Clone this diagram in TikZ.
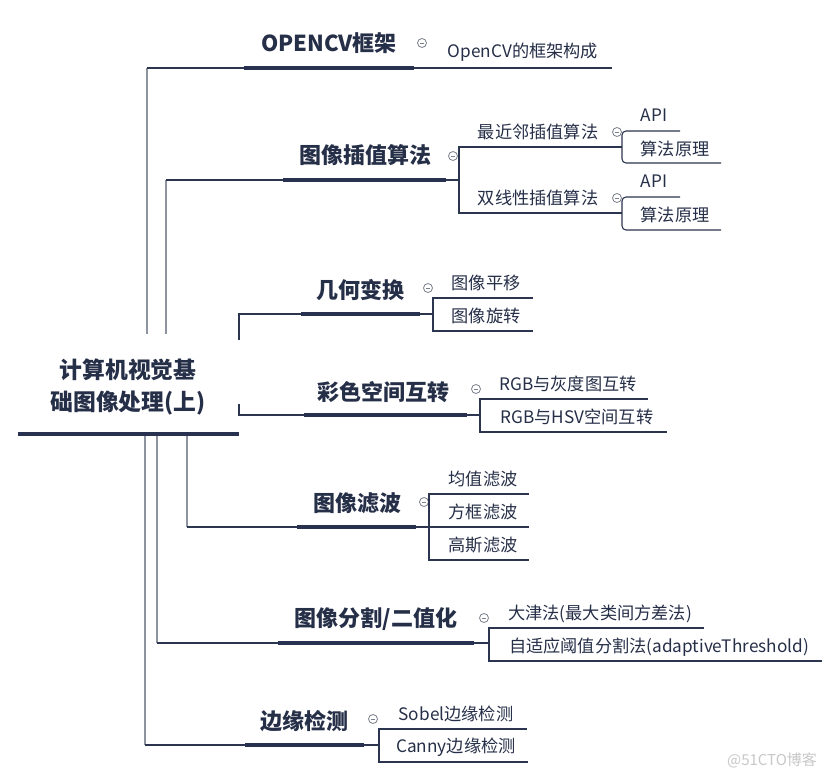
\documentclass[tikz,border=0pt]{standalone}
\usepackage{fontspec}
\setmainfont{Noto Sans CJK SC}
\definecolor{ink}{HTML}{262F48}
\definecolor{barc}{HTML}{283250}
\definecolor{linkc}{HTML}{2C3550}
\definecolor{trunkc}{HTML}{8E93A0}
\definecolor{foldc}{HTML}{7A7F8C}
\definecolor{markc}{HTML}{C8C8C8}
\begin{document}
\begin{tikzpicture}[x=1pt,y=-1pt,
 title/.style={font=\bfseries\fontsize{22}{32}\selectfont,text=ink,inner sep=0,align=center},
 leaf/.style={font=\fontsize{17.2}{20}\selectfont,text=ink,inner sep=0},
 bar/.style={line width=4.6pt,draw=barc},
 link/.style={line width=1.1pt,draw=linkc},
 trunk/.style={line width=1.4pt,draw=trunkc},
 fold/.style={circle,draw=foldc,line width=0.8pt,minimum size=9pt,inner sep=0,font=\fontsize{1}{1}\selectfont}]
\fill[white] (0,0) rectangle (832,778);
\useasboundingbox (0,0) rectangle (832,778);
\newcommand{\mn}{\textcolor{foldc}{\rule{4.6pt}{0.8pt}}}

% root
\node[title,font=\bfseries\fontsize{22.8}{32}\selectfont] (root) at (128,387) {计算机视觉基\\础图像处理(上)};
\coordinate (rL) at (18,434); \coordinate (rR) at (239,434);
\draw[bar] (rL) -- (rR);
\coordinate (tA) at (147,334); \coordinate (tB) at (166,334);
\coordinate (tC) at (145,436); \coordinate (tD) at (157,436); \coordinate (tE) at (187,436);
\coordinate (tF) at (239,340); \coordinate (tG) at (239,404);

% OPENCV
\node[title] (cv) at (329,43) {OPENCV框架};
\node[fold] (cvf) at (422,43) {\mn};
\node[leaf] (cv1) at (523,52) {OpenCV的框架构成};
\coordinate (cvL) at (244,68); \coordinate (cvR) at (414,68); \coordinate (cvE) at (612,68);
\draw[trunk] (tA) -- (tA |- cvL);
\draw[link] (tA |- cvL) -- (cvL);
\draw[bar] (cvL) -- (cvR);
\draw[link] (cvR) -- (cvE);

% interpolation
\node[title] (ip) at (365,155) {图像插值算法};
\node[fold] (ipf) at (453,156) {\mn};
\coordinate (ipL) at (283,180); \coordinate (ipR) at (446,180); \coordinate (ipV) at (459,180);
\draw[trunk] (tB) -- (tB |- ipL);
\draw[link] (tB |- ipL) -- (ipL);
\draw[bar] (ipL) -- (ipR);
\draw[link] (ipR) -- (ipV);
\node[leaf] (ip1) at (538,132) {最近邻插值算法};
\node[fold] (ip1f) at (617,132) {\mn};
\node[leaf] (ip2) at (538,198) {双线性插值算法};
\node[fold] (ip2f) at (617,198) {\mn};
\coordinate (ip1L) at (459,147); \coordinate (ip1R) at (622,147);
\coordinate (ip2L) at (459,213); \coordinate (ip2R) at (622,213);
\draw[link] (ip1R) -- (ip1L) -- (ip2L) -- (ip2R);
\node[leaf] (ip1a) at (654,115) {API};
\node[leaf] (ip1b) at (675,149) {算法原理};
\coordinate (ip1aR) at (680,131); \coordinate (ip1bR) at (721,163);
\draw[link,rounded corners=4pt] (ip1aR) -- (622,131) -- (622,163) -- (ip1bR);
\node[leaf] (ip2a) at (654,181) {API};
\node[leaf] (ip2b) at (675,215) {算法原理};
\coordinate (ip2aR) at (680,197); \coordinate (ip2bR) at (721,230);
\draw[link,rounded corners=4pt] (ip2aR) -- (622,197) -- (622,230) -- (ip2bR);

% geometry
\node[title] (geo) at (360,290) {几何变换};
\node[fold] (geof) at (428,288) {\mn};
\coordinate (geoL) at (301,314); \coordinate (geoR) at (420,314); \coordinate (geoV) at (433,314);
\draw[link] (tF) -- (tF |- geoL) -- (geoL);
\draw[bar] (geoL) -- (geoR);
\draw[link] (geoR) -- (geoV);
\node[leaf] (geo1) at (486,283) {图像平移};
\node[leaf] (geo2) at (486,316) {图像旋转};
\coordinate (geo1R) at (533,298); \coordinate (geo2R) at (533,331);
\draw[link] (geo1R) -- (433,298) -- (433,331) -- (geo2R);

% colour
\node[title] (col) at (383,392) {彩色空间互转};
\node[fold] (colf) at (476,389) {\mn};
\coordinate (colL) at (304,415); \coordinate (colR) at (467,415); \coordinate (colV) at (480,415);
\draw[link] (tG) -- (tG |- colL) -- (colL);
\draw[bar] (colL) -- (colR);
\draw[link] (colR) -- (colV);
\node[leaf] (col1) at (568,384) {RGB与灰度图互转};
\node[leaf] (col2) at (577,417) {RGB与HSV空间互转};
\coordinate (col1R) at (648,399); \coordinate (col2R) at (667,432);
\draw[link] (col1R) -- (480,399) -- (480,432) -- (col2R);

% filter
\node[title] (flt) at (357,503) {图像滤波};
\node[fold] (fltf) at (424,502) {\mn};
\coordinate (fltL) at (297,527); \coordinate (fltR) at (416,527); \coordinate (fltV) at (429,527);
\draw[trunk] (tE) -- (tE |- fltL);
\draw[link] (tE |- fltL) -- (fltL);
\draw[bar] (fltL) -- (fltR);
\draw[link] (fltR) -- (fltV);
\node[leaf] (flt1) at (483,479) {均值滤波};
\node[leaf] (flt2) at (483,512) {方框滤波};
\node[leaf] (flt3) at (483,545) {高斯滤波};
\coordinate (flt1R) at (529,494); \coordinate (flt2R) at (529,527); \coordinate (flt3R) at (529,560);
\draw[link] (flt1R) -- (429,494) -- (429,560) -- (flt3R);
\draw[link] (fltV) -- (flt2R);

% segmentation
\node[title] (seg) at (376,619) {图像分割/二值化};
\node[fold] (segf) at (484,618) {\mn};
\coordinate (segL) at (278,643); \coordinate (segR) at (474,643); \coordinate (segV) at (489,643);
\draw[trunk] (tD) -- (tD |- segL);
\draw[link] (tD |- segL) -- (segL);
\draw[bar] (segL) -- (segR);
\draw[link] (segR) -- (segV);
\node[leaf] (seg1) at (600,614) {大津法(最大类间方差法)};
\node[leaf] (seg2) at (659,647) {自适应阈值分割法(adaptiveThreshold)};
\coordinate (seg1R) at (704,628); \coordinate (seg2R) at (822,661);
\draw[link] (seg1R) -- (489,628) -- (489,661) -- (seg2R);

% edge
\node[title] (edg) at (304,721) {边缘检测};
\node[fold] (edgf) at (373,719) {\mn};
\coordinate (edgL) at (245,745); \coordinate (edgR) at (364,745); \coordinate (edgV) at (379,745);
\draw[trunk] (tC) -- (tC |- edgL);
\draw[link] (tC |- edgL) -- (edgL);
\draw[bar] (edgL) -- (edgR);
\draw[link] (edgR) -- (edgV);
\node[leaf] (edg1) at (456,714) {Sobel边缘检测};
\node[leaf] (edg2) at (456,747) {Canny边缘检测};
\coordinate (edg1R) at (527,729); \coordinate (edg2R) at (528,762);
\draw[link] (edg1R) -- (379,729) -- (379,762) -- (edg2R);

% watermark
\node[font=\fontsize{15}{18}\selectfont,text=markc,inner sep=0] (wm) at (772,760) {@51CTO博客};
\end{tikzpicture}
\end{document}
